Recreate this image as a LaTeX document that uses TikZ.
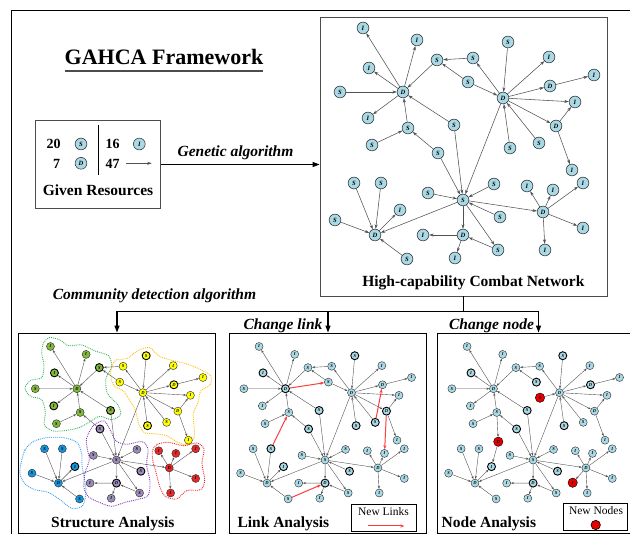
\documentclass[tikz,border=0pt]{standalone}
\usepackage{fontspec}
\setmainfont{Liberation Serif}
\usetikzlibrary{arrows.meta}

\definecolor{nodeblue}{RGB}{170,216,228}
\definecolor{cgreen}{RGB}{130,185,60}
\definecolor{cyellow}{RGB}{255,255,0}
\definecolor{cblue}{RGB}{20,150,220}
\definecolor{cpurple}{RGB}{155,140,185}
\definecolor{cred}{RGB}{230,40,40}
\definecolor{newred}{RGB}{255,60,60}
\definecolor{bgreen}{RGB}{60,180,100}
\definecolor{bgold}{RGB}{255,190,0}
\definecolor{bblue}{RGB}{60,160,235}
\definecolor{bpurple}{RGB}{130,60,190}
\definecolor{bred}{RGB}{240,30,30}

\tikzset{
  nd/.style={circle, draw=black!85, fill=nodeblue, inner sep=0pt, minimum size=11.8pt,
    line width=0.5pt, font=\bfseries\itshape\fontsize{6.5}{6.5}\selectfont},
  ed/.style={draw=black!68, line width=0.55pt, -{Stealth[length=4.5pt,width=3pt]}},
  small/.style={nd/.append style={minimum size=8pt, line width=0.4pt,
      font=\bfseries\itshape\fontsize{4.5}{4.5}\selectfont},
    ed/.append style={line width=0.4pt, -{Stealth[length=3pt,width=2.2pt]}}},
  key/.style={draw=black, line width=0.9pt},
  newl/.style={draw=newred, line width=1pt, -{Stealth[length=4pt,width=3pt]}},
  newn/.style={fill=red!90!black, draw=black, minimum size=9.4pt},
  blob/.style={densely dotted, line width=0.9pt},
}

% id / x / y / letter / community
\def\netnodes{1/363/28/I/g, 2/417/40/I/g, 3/437/60/S/g, 4/473/58/S/y, 5/508/42/S/y,
  6/549/57/I/y, 7/594/75/I/y, 8/369/68/I/g, 9/468/82/S/y, 10/550/86/D/y,
  11/340/92/S/g, 12/403/92/D/g, 13/503/98/D/y, 14/575/102/I/y, 15/368/118/I/g,
  16/408/128/S/g, 17/454/125/S/g, 18/556/126/D/y, 19/372/145/S/g, 20/438/153/S/p,
  21/510/148/S/y, 22/539/143/S/y, 23/572/170/I/y, 24/354/183/S/b, 25/381/183/S/b,
  26/494/184/S/p, 27/527/186/I/r, 28/553/190/I/r, 29/583/183/I/r, 30/428/193/S/p,
  31/463/200/S/p, 32/400/210/I/b, 33/543/212/D/r, 34/335/220/S/b, 35/500/217/S/p,
  36/375/235/D/b, 37/423/235/I/p, 38/463/235/D/p, 39/583/228/I/r, 40/498/250/S/p,
  41/545/250/I/r, 42/407/259/S/b, 43/455/258/I/p}
\def\netedges{12/1, 12/2, 12/8, 11/12, 12/15, 16/12, 19/16, 3/12, 4/3, 9/3, 13/4,
  5/13, 13/6, 13/10, 10/7, 13/14, 13/18, 18/14, 18/23, 21/13, 22/13, 13/31, 17/12,
  17/31, 20/16, 20/31, 30/31, 26/31, 31/36, 31/33, 31/38, 35/31, 31/40, 40/38,
  38/37, 38/43, 33/27, 33/28, 33/29, 33/39, 33/41, 24/36, 25/36, 34/36, 36/32, 42/36}

\newcommand{\drawnet}[1]{%
  \foreach \i/\x/\y/\t/\c in \netnodes {%
    \edef\mknode{\noexpand\node[nd, c\c/.try, k\i/.try] (#1\i) at (\x,\y) {\t};}%
    \mknode
  }%
  \foreach \a/\b in \netedges
    \draw[ed] (#1\a) -- (#1\b);
}

\begin{document}
\begin{tikzpicture}[x=1pt, y=-1pt,
    lbl/.style={font=\bfseries\fontsize{15.5}{17}\selectfont, inner sep=0pt, anchor=base},
    alg/.style={font=\bfseries\itshape\fontsize{15.5}{17}\selectfont, inner sep=0pt, anchor=base},
    num/.style={font=\bfseries\fontsize{14}{16}\selectfont, inner sep=0pt, anchor=base},
    panel/.style={draw=black, line width=0.9pt, minimum width=197pt, minimum height=200pt, inner sep=0pt},
    conn/.style={line width=1.2pt, -{Triangle[length=7pt,width=5pt]}}]
\clip (0,0) rectangle (630,534);
\draw[line width=0.8pt] (11,10) rectangle (650,560);

% title
\node[lbl, font=\bfseries\fontsize{22}{24}\selectfont] (title) at (164,65) {GAHCA Framework};
\draw[line width=1.6pt, black!70] ([yshift=-6pt]title.base west) -- ([yshift=-6pt]title.base east);

% given resources
\node[draw=black!70, line width=0.8pt, minimum width=125pt, minimum height=88.6pt, inner sep=0pt] (res) at (98.2,164.5) {};
\node[num] (n20) at (53.5,149) {20};
\node[nd] (rs) at (81,144) {S};
\node[num] (n16) at (112.5,149) {16};
\node[nd] (ri) at (139.3,144) {I};
\node[num] (n7) at (56.7,168.5) {7};
\node[nd] (rd) at (81,163.3) {D};
\node[num] (n47) at (112.5,168.5) {47};
\coordinate (ra) at (126,163.3);
\coordinate (rb) at (151.7,163.3);
\draw[ed] (ra) -- (rb);
\draw[line width=0.8pt] (98.3,125) -- (98.3,175);
\node[lbl] (given) at (98,196) {Given Resources};

% high-capability network
\node[draw=black!70, line width=0.8pt, minimum width=287pt, minimum height=279pt, inner sep=0pt] (hcn) at (463.5,156.5) {};
\draw[conn] (res.east) -- (res.east -| hcn.west);
\node[alg] (ga) at (235.5,157) {Genetic algorithm};
\node[lbl] (hcnlbl) at (473.4,286.7) {High-capability Combat Network};
\drawnet{m}
\draw[ed] (m9) -- (m13);

% three analysis panels
\node[panel] (sa) at (117,433) {};
\node[panel] (lpan) at (328,433) {};
\node[panel, minimum width=203pt] (npan) at (538.5,433) {};
\draw[line width=1.2pt] (hcn.south) -- ++(0,15) coordinate (split);
\draw[conn] (split) -| (sa.north);
\draw[conn] (split) -| (lpan.north);
\draw[conn] (split) -| (npan.north);
\node[alg] (cda) at (154.5,300) {Community detection algorithm};
\node[alg] (chl) at (283,330) {Change link};
\node[alg] (chn) at (491.5,330) {Change node};

% structure analysis
\begin{scope}[shift={(10,325)}, scale=0.3333]
  \draw[blob, bgreen] plot[smooth cycle] coordinates {(100,55) (118,38) (150,45) (175,62) (215,60) (255,78) (295,92) (305,125) (288,160) (292,205) (322,238) (332,268) (305,284) (270,274) (245,287) (210,307) (170,316) (130,318) (103,300) (106,262) (95,224) (62,214) (45,190) (62,166) (95,158) (102,122) (95,85)};
  \draw[blob, bgold] plot[smooth cycle] coordinates {(305,128) (318,105) (352,100) (385,76) (420,68) (445,92) (485,106) (528,116) (570,133) (602,152) (600,180) (572,198) (565,230) (550,265) (552,300) (552,338) (530,360) (500,350) (470,332) (430,326) (402,322) (386,295) (376,255) (358,225) (340,198) (312,182) (302,152)};
  \draw[blob, bblue] plot[smooth cycle] coordinates {(32,420) (45,375) (70,350) (110,338) (160,338) (200,352) (215,385) (216,420) (222,455) (228,500) (218,542) (185,550) (150,524) (115,502) (75,494) (45,477) (30,448)};
  \draw[blob, bpurple] plot[smooth cycle] coordinates {(230,340) (250,302) (282,288) (302,318) (318,348) (350,358) (395,350) (414,370) (410,420) (420,470) (414,512) (380,524) (345,532) (305,544) (268,532) (236,516) (222,488) (225,445) (238,405) (232,372)};
  \draw[blob, bred] plot[smooth cycle] coordinates {(428,375) (442,358) (475,352) (520,362) (560,354) (582,372) (576,415) (584,465) (572,494) (530,497) (500,522) (466,514) (450,487) (438,442) (428,405)};
\end{scope}
\begin{scope}[shift={(-189.1,328)}, scale=0.66, small,
    cg/.style={fill=cgreen}, cy/.style={fill=cyellow}, cb/.style={fill=cblue},
    cp/.style={fill=cpurple}, cr/.style={fill=cred},
    k8/.style=key, k15/.style=key, k3/.style=key, k5/.style=key, k10/.style=key,
    k17/.style=key, k20/.style=key, k21/.style=key, k32/.style=key, k35/.style=key, k38/.style=key]
  \drawnet{s}
  \draw[ed] (s9) -- (s13);
\end{scope}
\node[lbl] (salbl) at (112.8,528) {Structure Analysis};

% link analysis
\begin{scope}[shift={(19.5,328)}, scale=0.66, small,
    k8/.style=key, k12/.style=key, k5/.style=key, k17/.style=key, k18/.style=key,
    k20/.style=key, k21/.style=key, k22/.style=key, k25/.style=key, k32/.style=key,
    k35/.style=key, k38/.style=key]
  \drawnet{l}
  \draw[ed] (l9) -- (l13);
  \draw[newl] (l12) -- (l9);
  \draw[newl] (l25) -- (l16);
  \draw[newl] (l22) -- (l10);
  \draw[newl] (l18) -- (l28);
  \draw[newl] (l42) -- (l38);
\end{scope}
\node[lbl] (lalbl) at (283.4,528) {Link Analysis};
\node[draw, line width=1pt, minimum width=65pt, minimum height=27.4pt, inner sep=0pt] (lkey) at (383.5,518) {};
\node[font=\fontsize{11.5}{13}\selectfont, inner sep=0pt, anchor=base] (lkeytxt) at (383.5,516) {New Links};
\coordinate (lk1) at (367.7,526);
\coordinate (lk2) at (404.3,526);
\draw[newl] (lk1) -- (lk2);

% node analysis
\begin{scope}[shift={(227.5,328)}, scale=0.66, small,
    k8/.style=key, k5/.style=key, k9/.style=key, k10/.style=key, k17/.style=key,
    k20/.style=key, k21/.style=key, k32/.style=key, k35/.style=key, k38/.style=key]
  \drawnet{n}
  \node[nd, newn] (nS) at (473.5,105.6) {S};
  \node[nd, newn] (nD) at (410.3,172.3) {D};
  \node[nd, newn] (nI) at (523,234.4) {I};
  \draw[ed] (nS) -- (n13);
  \draw[ed] (n16) -- (nD);
  \draw[ed] (nD) -- (n32);
  \draw[ed] (n33) -- (nI);
\end{scope}
\node[lbl] (nalbl) at (488.9,528) {Node Analysis};
\node[draw, line width=1pt, minimum width=64pt, minimum height=27.7pt, inner sep=0pt] (nkey) at (595,516.9) {};
\node[font=\fontsize{11.5}{13}\selectfont, inner sep=0pt, anchor=base] (nkeytxt) at (596,515) {New Nodes};
\node[circle, draw=black, line width=0.6pt, fill=red!90!black, minimum size=9.4pt, inner sep=0pt] (nkeydot) at (595.7,525) {};
\end{tikzpicture}
\end{document}
